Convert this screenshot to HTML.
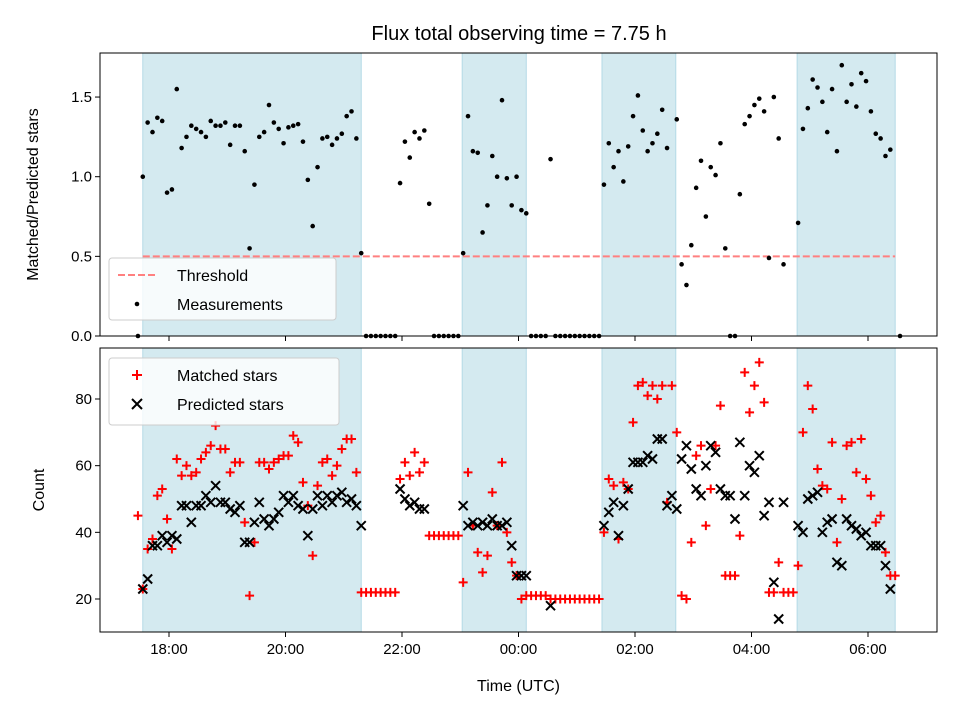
<!DOCTYPE html>
<html><head><meta charset="utf-8"><style>
body{margin:0;background:#fff;}
svg{display:block;font-family:"Liberation Sans","DejaVu Sans",sans-serif;}
</style></head><body>
<svg id="fig" width="960" height="720" viewBox="0 0 960 720" xmlns="http://www.w3.org/2000/svg">
<rect x="0" y="0" width="960" height="720" fill="#fff"/>
<text x="519" y="40" font-size="20" text-anchor="middle" fill="#000">Flux total observing time = 7.75 h</text>
<g id="topPanel"></g>
<g id="botPanel"></g>
</svg>
<script>
// sampling: 5-minute cadence starting 17:28 UTC
const startMinute = 17*60+28;
const cadenceMin = 5;
const ratio = [0,1.0,1.34,1.28,1.37,1.35,0.9,0.92,1.55,1.18,1.25,1.32,1.30,1.28,1.25,1.35,1.32,1.32,1.34,1.2,1.32,1.32,1.16,0.55,0.95,1.25,1.28,1.45,1.34,1.3,1.21,1.31,1.32,1.33,1.22,0.98,0.69,1.06,1.24,1.25,1.2,1.24,1.27,1.38,1.41,1.24,0.52,0,0,0,0,0,0,0,0.96,1.22,1.12,1.28,1.24,1.29,0.83,0,0,0,0,0,0,0.52,1.38,1.16,1.15,0.65,0.82,1.13,1.0,1.48,0.99,0.82,1.0,0.79,0.77,0,0,0,0,1.11,0,0,0,0,0,0,0,0,0,0,0.95,1.21,1.06,1.16,0.97,1.19,1.38,1.51,1.29,1.16,1.21,1.27,1.42,1.18,null,1.36,0.45,0.32,0.57,0.93,1.1,0.75,1.06,1.01,1.21,0.55,0,0,0.89,1.33,1.38,1.45,1.49,1.41,0.49,1.5,1.24,0.45,null,null,0.71,1.3,1.43,1.61,1.56,1.47,1.28,1.55,1.16,1.7,1.47,1.58,1.44,1.65,1.6,1.41,1.27,1.24,1.13,1.17,null,0];
const matched = [45,23,35,38,51,53,44,35,62,57,60,57,58,62,64,66,72,65,65,58,61,61,43,21,37,61,61,59,61,62,63,63,69,67,55,48,33,54,61,62,57,60,65,68,68,58,22,22,22,22,22,22,22,22,56,61,57,64,58,61,39,39,39,39,39,39,39,25,58,42,34,28,33,52,42,61,40,31,27,20,21,21,21,21,21,20,20,20,20,20,20,20,20,20,20,20,40,56,54,38,55,53,73,84,85,81,84,80,84,49,84,70,21,20,37,63,66,42,53,66,78,27,27,27,39,88,76,84,91,79,22,22,31,22,22,22,30,70,84,77,59,54,53,67,37,50,66,67,58,68,56,51,43,45,34,27,27,null];
const predicted = [null,23,26,36,36,39,37,39,38,48,48,43,48,48,51,49,54,49,49,47,46,48,37,37,43,49,44,42,44,46,51,49,51,48,47,39,47,51,48,51,49,51,52,49,50,48,42,null,null,null,null,null,null,null,53,50,48,49,47,47,null,null,null,null,null,null,null,48,42,43,42,43,42,44,42,42,43,36,27,27,27,null,null,null,null,18,null,null,null,null,null,null,null,null,null,null,42,46,49,39,48,53,61,61,61,63,62,68,68,48,51,47,62,66,59,53,51,60,66,64,53,51,51,44,67,51,60,58,63,45,49,25,14,49,null,null,42,40,50,51,52,40,43,44,31,30,44,42,41,39,40,36,36,36,30,23,null,null];
const shadeStart = ["17:33","23:02","01:26","04:47"];
const shadeEnd = ["21:18","00:08","02:42","06:28"];
const threshold = 0.5;
const xTicks = ["18:00","20:00","22:00","00:00","02:00","04:00","06:00"];
const topTicks = [0.0,0.5,1.0,1.5];
const botTicks = [20,40,60,80];

const NS="http://www.w3.org/2000/svg";
const L=100,R=937,TT=53,TB=336,BT=348,BB=632;
function hm(s){const p=s.split(":");let m=+p[0]*60+ +p[1];if(m<12*60)m+=1440;return m;}
function xs(min){return 169+(min-18*60)/60*58.25;}
function yTop(v){return 336-v*159.3;}
function yBot(c){return 599-(c-20)*200/60;}
function el(tag,attrs,parent){const e=document.createElementNS(NS,tag);for(const k in attrs)e.setAttribute(k,attrs[k]);parent.appendChild(e);return e;}
const gTop=document.getElementById('topPanel'), gBot=document.getElementById('botPanel');
function tmin(i){return startMinute+i*cadenceMin;}

// shading
[[gTop,TT,TB],[gBot,BT,BB]].forEach(([g,y0,y1],pi)=>{
  for(let i=0;i<shadeStart.length;i++){
    const x0=xs(hm(shadeStart[i])),x1=xs(hm(shadeEnd[i]));
    const r=el('rect',{x:x0,y:y0,width:x1-x0,height:y1-y0,fill:'#d4eaf0',stroke:'#b4dae6','stroke-width':1},g);
    
    
  }
});
// threshold
{const l=el('line',{x1:xs(hm(shadeStart[0])),x2:xs(hm(shadeEnd[shadeEnd.length-1])),y1:yTop(threshold),y2:yTop(threshold),stroke:'#ff8080','stroke-width':2,'stroke-dasharray':'7,3'},gTop);

}
// ratio points
ratio.forEach((v,i)=>{if(v===null)return;
  const c=el('circle',{cx:xs(tmin(i)),cy:yTop(v),r:2.3,fill:'#000'},gTop);
  
  
});
// matched plus
matched.forEach((v,i)=>{if(v===null)return;
  const x=xs(tmin(i)),y=yBot(v);
  const p=el('path',{d:`M${x-4.5},${y}H${x+4.5}M${x},${y-4.5}V${y+4.5}`,stroke:'#f00','stroke-width':2},gBot);
  
  
});
predicted.forEach((v,i)=>{if(v===null)return;
  const x=xs(tmin(i)),y=yBot(v);
  const p=el('path',{d:`M${x-4.5},${y-4.5}L${x+4.5},${y+4.5}M${x-4.5},${y+4.5}L${x+4.5},${y-4.5}`,stroke:'#000','stroke-width':2},gBot);
  
  
});
// frames
[[gTop,TT,TB,'top'],[gBot,BT,BB,'bottom']].forEach(([g,y0,y1,n])=>{
  const r=el('rect',{x:L,y:y0,width:R-L,height:y1-y0,fill:'none',stroke:'#000','stroke-width':1},g);
  
  
  xTicks.forEach(t=>{const x=xs(hm(t));
    const tk=el('line',{x1:x,x2:x,y1:y1,y2:y1+5,stroke:'#000'},g);
    
    
    if(n==='bottom'){const tx=el('text',{x:x,y:y1+22,'font-size':15,'text-anchor':'middle'},g);tx.textContent=t;
      
      }
  });
});
topTicks.forEach(v=>{const y=yTop(v);
  const tk=el('line',{x1:L-5,x2:L,y1:y,y2:y,stroke:'#000'},gTop);
  
  
  const tx=el('text',{x:L-8,y:y+5,'font-size':15,'text-anchor':'end'},gTop);tx.textContent=v.toFixed(1);
  
  
});
botTicks.forEach(v=>{const y=yBot(v);
  const tk=el('line',{x1:L-5,x2:L,y1:y,y2:y,stroke:'#000'},gBot);
  
  
  const tx=el('text',{x:L-8,y:y+5,'font-size':15,'text-anchor':'end'},gBot);tx.textContent=v;
  
  
});
// axis titles
{let t=el('text',{x:0,y:0,'font-size':16,'text-anchor':'middle',transform:`translate(38,${(TT+TB)/2}) rotate(-90)`},gTop);t.textContent='Matched/Predicted stars';

t=el('text',{x:0,y:0,'font-size':16,'text-anchor':'middle',transform:`translate(44,${(BT+BB)/2}) rotate(-90)`},gBot);t.textContent='Count';

t=el('text',{x:(L+R)/2,y:691,'font-size':16,'text-anchor':'middle'},gBot);t.textContent='Time (UTC)';
}
// legends
function legend(g,x,y,w,h,name,items){
  const lg=el('g',{},g);
  
  
  el('rect',{x:x,y:y,width:w,height:h,rx:3,fill:'rgba(255,255,255,0.8)',stroke:'#ccc'},lg);
  items.forEach((it,i)=>{const cy=y+17+i*29;const mx=x+28;
    const m=el('g',{},lg);
    
    
    if(it.t==='dash')el('line',{x1:mx-19,x2:mx+19,y1:cy,y2:cy,stroke:'#ff8080','stroke-width':2,'stroke-dasharray':'7,3'},m);
    if(it.t==='dot')el('circle',{cx:mx,cy:cy,r:2.3,fill:'#000'},m);
    if(it.t==='plus')el('path',{d:`M${mx-5},${cy}H${mx+5}M${mx},${cy-5}V${cy+5}`,stroke:'#f00','stroke-width':2},m);
    if(it.t==='x')el('path',{d:`M${mx-5},${cy-5}L${mx+5},${cy+5}M${mx-5},${cy+5}L${mx+5},${cy-5}`,stroke:'#000','stroke-width':2},m);
    const tx=el('text',{x:x+68,y:cy+6,'font-size':16},m);tx.textContent=it.label;
  });
}
legend(gTop,109,258,227,62,'top-legend',[{t:'dash',label:'Threshold'},{t:'dot',label:'Measurements'}]);
legend(gBot,109,358,230,67,'bottom-legend',[{t:'plus',label:'Matched stars'},{t:'x',label:'Predicted stars'}]);
</script>
</body></html>
